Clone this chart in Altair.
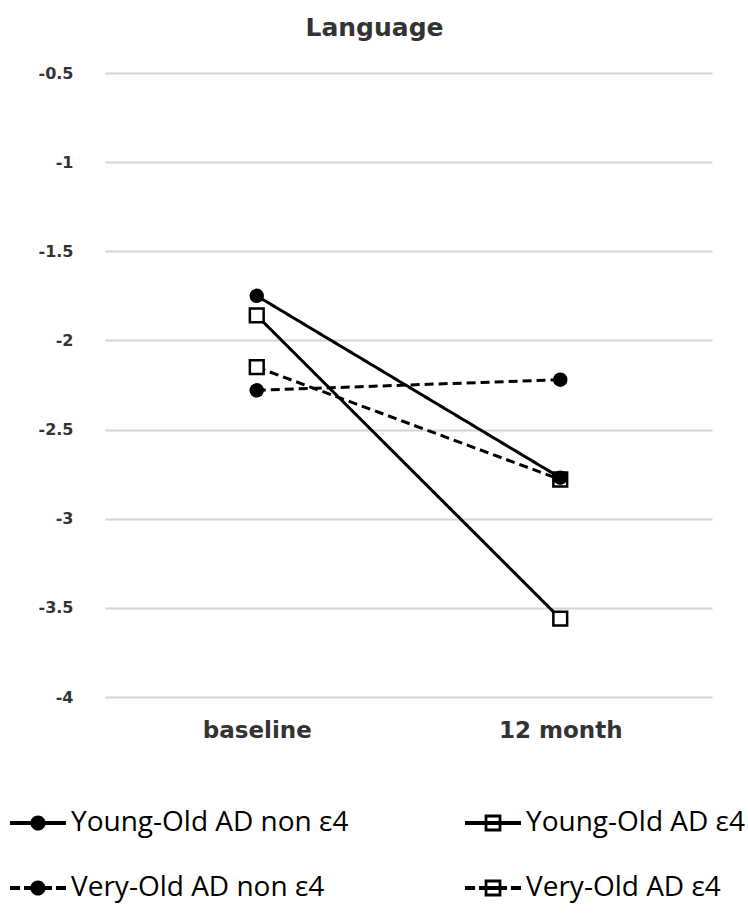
import altair as alt
import pandas as pd

# Language composite scores by group at two time points
timepoints = ["baseline", "12 month"]
groups = ["Young-Old AD non ε4", "Young-Old AD ε4", "Very-Old AD non ε4", "Very-Old AD ε4"]
baseline_scores = [-1.75, -1.86, -2.28, -2.15]
month12_scores = [-2.77, -3.56, -2.22, -2.78]
y_ticks = [-4, -3.5, -3, -2.5, -2, -1.5, -1, -0.5]

rows = []
for g, b, m in zip(groups, baseline_scores, month12_scores):
    rows.append({"group": g, "key": g, "time": timepoints[0], "score": b})
    rows.append({"group": g, "key": g, "time": timepoints[1], "score": m})
df = pd.DataFrame(rows)

# line styles: solid for Young-Old, dashed for Very-Old
dash_range = [[1, 0], [1, 0], [9, 5], [9, 5]]


def rect(x0, x1, h):
    return f"M{x0},{-h}L{x1},{-h}L{x1},{h}L{x0},{h}Z"


def circle(r):
    return f"M{r},0A{r},{r} 0 1,1 {-r},0A{r},{r} 0 1,1 {r},0Z"


def ring(s, t):
    i = s - t
    outer = f"M{-s},{-s}L{s},{-s}L{s},{s}L{-s},{s}Z"
    inner = f"M{-i},{-i}L{-i},{i}L{i},{i}L{i},{-i}Z"
    return outer + inner


LW = 0.07
solid_line = rect(-1, 1, LW)
dashed_line = rect(-1, -0.64, LW) + rect(-0.5, 0.5, LW) + rect(0.64, 1, LW)
glyph_by_group = {
    groups[0]: solid_line + circle(0.27),
    groups[1]: solid_line + ring(0.3, 0.1),
    groups[2]: dashed_line + circle(0.27),
    groups[3]: dashed_line + ring(0.3, 0.1),
}
# legend columns: non-ε4 groups on the left, ε4 groups on the right
legend_order = [groups[0], groups[2], groups[1], groups[3]]
legend_glyphs = [glyph_by_group[g] for g in legend_order]

x_enc = alt.X(
    "time:N",
    sort=timepoints,
    scale=alt.Scale(type="point", padding=0.5),
    axis=alt.Axis(
        title=None, labelAngle=0, domain=False, ticks=False, grid=False,
        labelFont="DejaVu Sans", labelFontWeight="bold", labelFontSize=23,
        labelColor="#333", labelPadding=22,
    ),
)
y_enc = alt.Y(
    "score:Q",
    scale=alt.Scale(domain=[-4, -0.5], nice=False, zero=False),
    axis=alt.Axis(
        title=None, values=y_ticks, labelExpr="datum.value + ''",
        domain=False, ticks=False, grid=True, gridColor="#d4d4d4", gridWidth=2,
        labelFont="DejaVu Sans", labelFontWeight="bold", labelFontSize=16,
        labelColor="#333", labelPadding=32,
    ),
)

lines = alt.Chart(df).mark_line(color="black", strokeWidth=3).encode(
    x=x_enc,
    y=y_enc,
    detail="group:N",
    strokeDash=alt.StrokeDash("group:N", sort=groups,
                              scale=alt.Scale(domain=groups, range=dash_range),
                              legend=None),
)

squares = alt.Chart(df).transform_filter(
    alt.FieldOneOfPredicate(field="group", oneOf=[groups[1], groups[3]])
).mark_point(shape="square", size=190, filled=True, fill="white",
             stroke="black", strokeWidth=2.5, opacity=1).encode(x=x_enc, y=y_enc)

circles = alt.Chart(df).transform_filter(
    alt.FieldOneOfPredicate(field="group", oneOf=[groups[0], groups[2]])
).mark_point(shape="circle", size=210, filled=True, color="black",
             opacity=1).encode(x=x_enc, y=y_enc)

legend_layer = alt.Chart(df).mark_point(filled=True, color="black", opacity=0).encode(
    x=x_enc,
    y=y_enc,
    shape=alt.Shape(
        "key:N", sort=legend_order,
        scale=alt.Scale(domain=legend_order, range=legend_glyphs),
        legend=alt.Legend(
            title=None, orient="none", legendX=-95, legendY=722,
            columns=2, columnPadding=116, rowPadding=23, padding=0,
            labelFont="Open Sans", labelFontSize=28, labelColor="black",
            labelLimit=500, labelOffset=5,
            symbolSize=3136, symbolStrokeWidth=0, symbolFillColor="black",
            symbolOpacity=1,
        ),
    ),
)

chart = (
    alt.layer(lines, squares, circles, legend_layer)
    .resolve_scale(shape="independent", strokeDash="independent")
    .properties(
        width=607,
        height=624,
        padding={"left": 105, "top": 73, "right": 36, "bottom": 221},
        autosize=alt.AutoSizeParams(type="none"),
        title=alt.TitleParams(
            "Language", font="DejaVu Sans", fontSize=25, fontWeight="bold",
            color="#333", anchor="middle", dx=-34, offset=24,
        ),
    )
    .configure(background="white")
    .configure_view(stroke=None)
)

chart.save("out.html", embed_options={"renderer": "svg", "actions": False})
